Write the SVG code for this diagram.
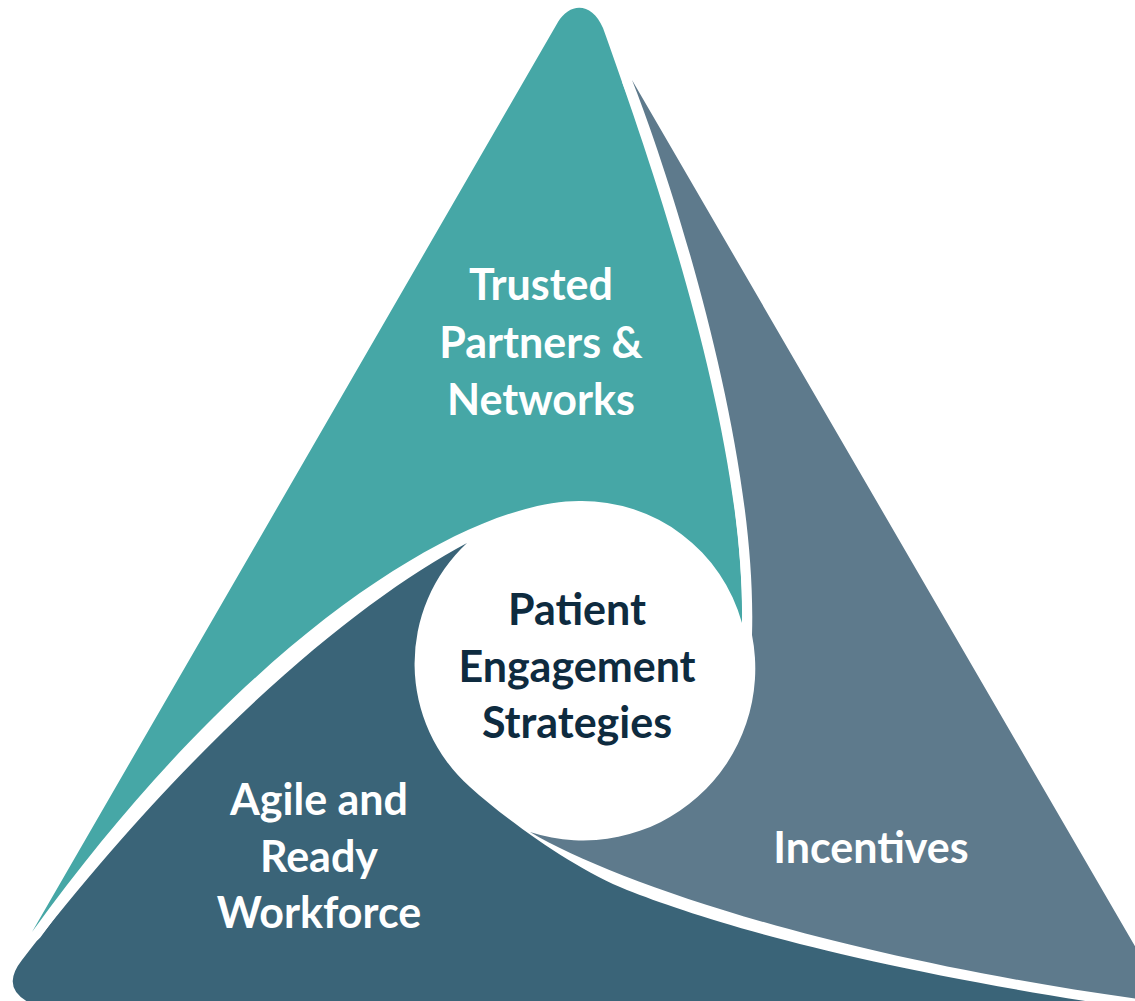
<svg xmlns="http://www.w3.org/2000/svg" width="1135" height="1001" viewBox="0 0 1135 1001">
<style>
.seg{stroke:#ffffff;stroke-width:20;stroke-linejoin:round;paint-order:stroke}
.gap{fill:none;stroke:#ffffff;stroke-width:20;stroke-linecap:round}
.lbl{font-family:Lato,"Open Sans","Liberation Sans",sans-serif;font-weight:700;font-size:43px;text-anchor:middle}
.w{fill:#ffffff}
.c{fill:#0E2B3F}
</style>
<rect width="1135" height="1001" fill="#ffffff"/>
<g id="node-agile">
<path fill="#3A6478" d="M467 543 A165 165 0 0 0 470 787 C510 823 577 870.5 627 890 C700 918.5 845 966 1144 1010 L40 1010 L30 1003 Q0 988 22 960 C200 730 360 600 467 543 Z"/>
<text class="lbl w" x="319" y="815">Agile and</text>
<text class="lbl w" x="319" y="872">Ready</text>
<text class="lbl w" x="319" y="928">Workforce</text>
</g>
<g id="node-trusted">
<path class="seg" fill="#46A7A6" d="M32 932 L558 22 C570 2 592 2 603 28 C650 160 745 430 742 623 A166 166 0 0 0 580 501 C470 500 250 630 32 932 Z"/>
<text class="lbl w" x="541" y="300">Trusted</text>
<text class="lbl w" x="541" y="358">Partners &amp;</text>
<text class="lbl w" x="541" y="415">Networks</text>
</g>
<g id="node-incentives">
<path class="gap" d="M752 635 C758 440 664 160 632 80"/>
<path fill="#5E7A8C" d="M632 80 L1172 1010 L1145 1000 C840 958 620 885 530 832 A172 172 0 0 0 752 635 C758 440 664 160 632 80 Z"/>
<text class="lbl w" x="871" y="863">Incentives</text>
</g>
<g id="node-center">
<text class="lbl c" x="577" y="625">Patient</text>
<text class="lbl c" x="577" y="682">Engagement</text>
<text class="lbl c" x="577" y="738">Strategies</text>
</g>
</svg>
